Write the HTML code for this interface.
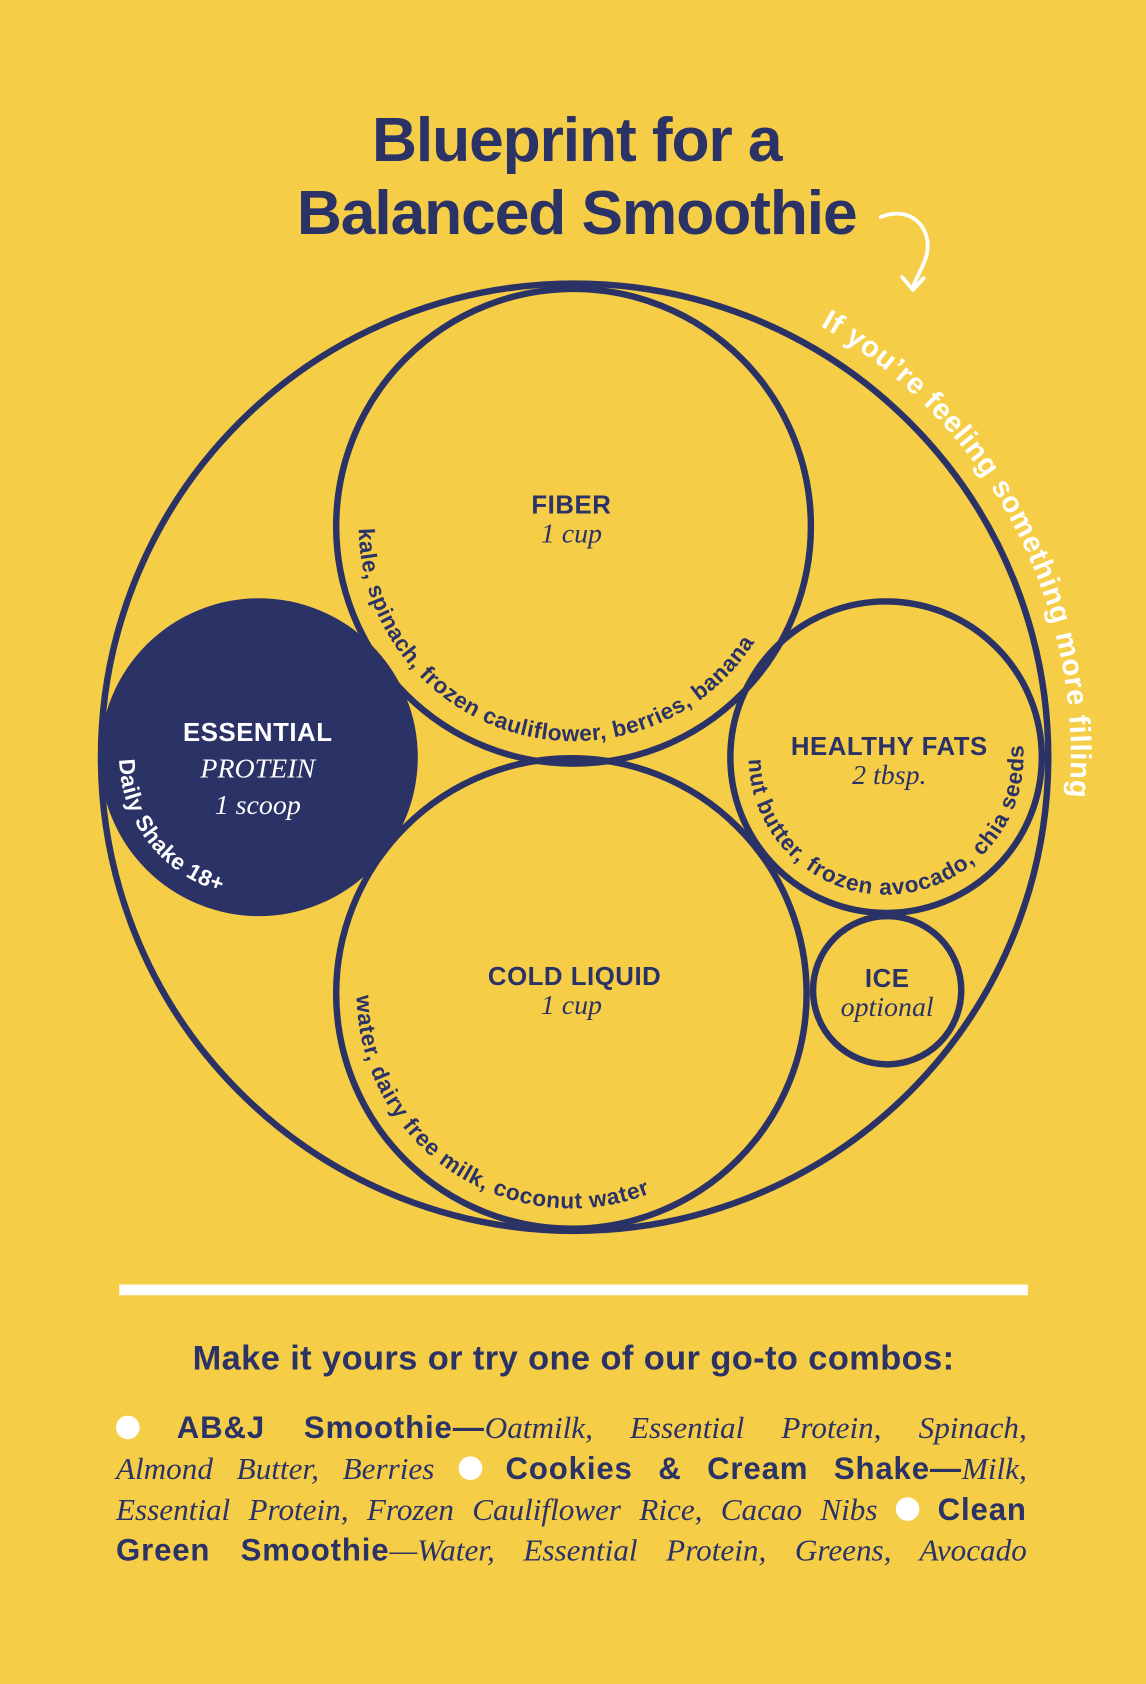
<!DOCTYPE html>
<html><head><meta charset="utf-8"><style>
html,body{margin:0;padding:0;background:#f6cd47;}
#wrap{width:1067px;height:1568px;transform:scale(1.07404);transform-origin:0 0;position:relative;background:#f6cd47;overflow:hidden;}
svg{position:absolute;left:0;top:0;}
.line{position:absolute;left:108px;width:848px;font-size:29px;color:#2b3266;text-align:justify;text-align-last:justify;white-space:nowrap;font-family:"Liberation Serif",serif;font-style:italic;}
.line b{font-family:"Liberation Sans",sans-serif;font-style:normal;font-weight:bold;letter-spacing:0.8px;}
.dot{display:inline-block;width:22px;height:22px;border-radius:50%;background:#fff;vertical-align:-1px;}
</style></head><body><div id="wrap">
<svg width="1067" height="1568" viewBox="0 0 1067 1568">
<defs>
<path id="pf" d="M334,490 A200,200 0 1 0 734,490 A200,200 0 1 0 334,490"/>
<path id="pp" d="M111,705 A130,130 0 1 0 371,705 A130,130 0 1 0 111,705"/>
<path id="pc" d="M332,925 A200,200 0 1 0 732,925 A200,200 0 1 0 332,925"/>
<path id="ph" d="M697,705 A128,128 0 1 0 953,705 A128,128 0 1 0 697,705"/>
<path id="po" d="M73,705 A462,462 0 1 1 997,705 A462,462 0 1 1 73,705"/>
</defs>
<g font-family="Liberation Sans,sans-serif" fill="#2b3266" font-weight="bold" text-anchor="middle">
<text x="537" y="150" font-size="58" letter-spacing="-1">Blueprint for a</text>
<text x="537" y="218" font-size="58" letter-spacing="-1">Balanced Smoothie</text>
</g>
<path d="M820,202 C850,190 870,215 862,240 C858,252 852,260 850,268" fill="none" stroke="#fff" stroke-width="3.5" stroke-linecap="round"/>
<path d="M840,258 L850,270 L860,259" fill="none" stroke="#fff" stroke-width="3.5" stroke-linecap="round" stroke-linejoin="round"/>
<g fill="none" stroke="#2b3266" stroke-width="6">
<circle cx="535" cy="705" r="441"/>
<circle cx="534" cy="490" r="221"/>
<circle cx="532" cy="925" r="219"/>
<circle cx="825" cy="705" r="145"/>
<circle cx="826" cy="922" r="69"/>
</g>
<circle cx="241" cy="705" r="148" fill="#2b3266"/>
<g font-family="Liberation Sans,sans-serif" font-size="21" fill="#2b3266" letter-spacing="0.5" font-weight="bold">
<text><textPath href="#pf" startOffset="2">kale, spinach, frozen cauliflower, berries, banana</textPath></text>
<text><textPath href="#pc" startOffset="2" letter-spacing="0.7">water, dairy free milk, coconut water</textPath></text>
<text><textPath href="#ph" startOffset="2" letter-spacing="0.8">nut butter, frozen avocado, chia seeds</textPath></text>
<text fill="#fff"><textPath href="#pp" startOffset="2">Daily Shake 18+</textPath></text>
<text fill="#fff" font-size="27" letter-spacing="0.7"><textPath href="#po" startOffset="965">If you’re feeling something more filling</textPath></text>
</g>
<g text-anchor="middle" fill="#2b3266">
<g font-family="Liberation Sans,sans-serif" font-weight="bold" font-size="24" letter-spacing="0.5">
<text x="532" y="478">FIBER</text>
<text x="240" y="690" fill="#fff">ESSENTIAL</text>
<text x="828" y="703">HEALTHY FATS</text>
<text x="535" y="917">COLD LIQUID</text>
<text x="826" y="919">ICE</text>
</g>
<g font-family="Liberation Serif,serif" font-style="italic" font-size="26">
<text x="532" y="505">1 cup</text>
<text x="240" y="724" fill="#fff">PROTEIN</text>
<text x="240" y="758" fill="#fff">1 scoop</text>
<text x="828" y="730">2 tbsp.</text>
<text x="532" y="944">1 cup</text>
<text x="826" y="946">optional</text>
</g>
</g>
<rect x="111" y="1196" width="846" height="10" fill="#fff"/>
<text x="534" y="1275" text-anchor="middle" font-family="Liberation Sans,sans-serif" font-weight="bold" font-size="32" letter-spacing="0.4" fill="#2b3266">Make it yours or try one of our go-to combos:</text>
</svg>
<div class="line" style="top:1314px"><span class="dot"></span> <b>AB&amp;J Smoothie—</b>Oatmilk, Essential Protein, Spinach,</div>
<div class="line" style="top:1352px">Almond Butter, Berries <span class="dot"></span> <b>Cookies &amp; Cream Shake—</b>Milk,</div>
<div class="line" style="top:1390px">Essential Protein, Frozen Cauliflower Rice, Cacao Nibs <span class="dot"></span> <b>Clean</b></div>
<div class="line" style="top:1428px"><b>Green Smoothie</b>—Water, Essential Protein, Greens, Avocado</div>
</div></body></html>
